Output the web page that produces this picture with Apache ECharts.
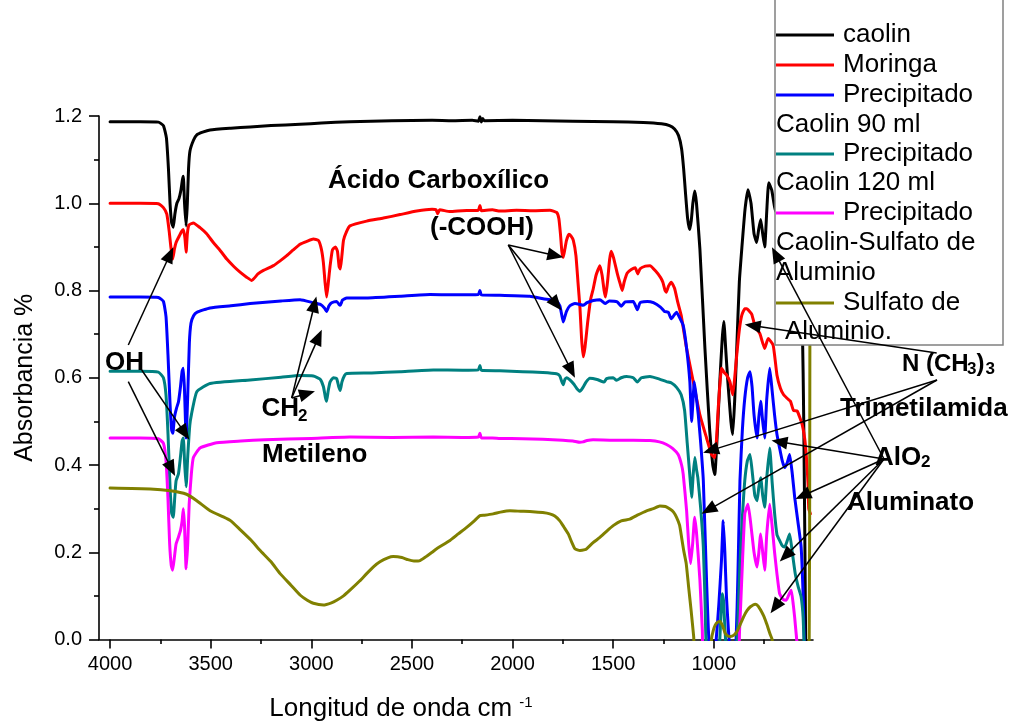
<!DOCTYPE html>
<html><head><meta charset="utf-8">
<script src="https://cdn.jsdelivr.net/npm/echarts@6/dist/echarts.min.js"></script>
<style>html,body{margin:0;padding:0;background:#fff}#c{width:1011px;height:727px}</style>
</head><body><div id="c"></div>
<script>
// ---------------- data (wavenumber cm-1, absorbance) ----------------
const caolin = [[4000,1.187],[3850,1.187],[3760,1.186],[3735,1.178],[3720,1.15],[3710,1.08],[3702,1.0],[3694,0.955],[3686,0.945],[3678,0.975],[3668,1.0],[3658,1.01],[3648,1.03],[3640,1.055],[3636,1.062],[3630,1.0],[3622,0.948],[3616,1.0],[3610,1.08],[3603,1.12],[3585,1.145],[3569,1.157],[3540,1.163],[3503,1.168],[3400,1.172],[3304,1.175],[3200,1.178],[3056,1.181],[2950,1.184],[2808,1.187],[2600,1.189],[2400,1.19],[2300,1.189],[2200,1.19],[2170,1.188],[2162,1.198],[2155,1.186],[2148,1.194],[2140,1.189],[2000,1.19],[1850,1.189],[1700,1.188],[1500,1.187],[1350,1.185],[1260,1.182],[1220,1.178],[1195,1.17],[1175,1.155],[1160,1.125],[1150,1.08],[1140,1.02],[1130,0.965],[1120,0.94],[1112,0.96],[1104,1.0],[1095,1.028],[1086,1.0],[1069,0.895],[1044,0.667],[1020,0.477],[1005,0.40],[995,0.378],[985,0.45],[970,0.592],[958,0.69],[950,0.729],[940,0.66],[930,0.59],[915,0.5],[906,0.47],[896,0.55],[886,0.667],[873,0.82],[861,0.895],[845,0.985],[830,1.031],[815,1.0],[800,0.93],[787,0.91],[777,0.94],[767,0.963],[757,0.93],[747,0.9],[737,0.98],[727,1.047],[712,1.03],[690,0.98],[640,1.0],[600,0.95],[575,0.85],[560,0.72],[553,0.5],[547,0.2],[542,-0.1]];
const moringa = [[4000,1.0],[3850,1.0],[3760,0.999],[3735,0.99],[3718,0.975],[3706,0.935],[3698,0.9],[3689,0.872],[3680,0.895],[3672,0.91],[3656,0.925],[3645,0.935],[3636,0.94],[3628,0.92],[3622,0.888],[3616,0.93],[3608,0.95],[3586,0.955],[3553,0.944],[3520,0.93],[3487,0.91],[3450,0.89],[3420,0.872],[3385,0.855],[3354,0.842],[3320,0.83],[3296,0.823],[3265,0.838],[3238,0.846],[3188,0.857],[3155,0.868],[3122,0.88],[3090,0.893],[3056,0.906],[3020,0.913],[2990,0.918],[2965,0.915],[2950,0.895],[2940,0.864],[2932,0.82],[2924,0.785],[2915,0.82],[2907,0.855],[2895,0.893],[2880,0.9],[2870,0.89],[2862,0.855],[2856,0.849],[2848,0.88],[2840,0.915],[2825,0.935],[2808,0.948],[2725,0.959],[2642,0.966],[2559,0.974],[2476,0.982],[2400,0.986],[2380,0.985],[2372,0.976],[2362,0.985],[2311,0.981],[2250,0.983],[2170,0.984],[2162,0.995],[2155,0.983],[2100,0.985],[2063,0.982],[1980,0.984],[1898,0.983],[1814,0.984],[1781,0.979],[1770,0.965],[1762,0.93],[1755,0.89],[1748,0.876],[1740,0.895],[1732,0.915],[1720,0.929],[1710,0.925],[1698,0.915],[1685,0.88],[1675,0.82],[1665,0.76],[1657,0.69],[1649,0.648],[1640,0.67],[1626,0.73],[1612,0.78],[1599,0.804],[1585,0.835],[1566,0.857],[1555,0.835],[1545,0.80],[1538,0.785],[1528,0.82],[1518,0.87],[1510,0.89],[1498,0.875],[1480,0.84],[1465,0.815],[1455,0.80],[1445,0.82],[1430,0.84],[1410,0.848],[1390,0.852],[1378,0.838],[1366,0.85],[1340,0.856],[1317,0.857],[1290,0.845],[1265,0.83],[1253,0.819],[1242,0.8],[1236,0.796],[1225,0.81],[1211,0.819],[1195,0.805],[1180,0.775],[1162,0.743],[1135,0.667],[1102,0.591],[1069,0.515],[1036,0.462],[1011,0.424],[995,0.417],[985,0.47],[978,0.53],[961,0.622],[948,0.612],[936,0.606],[920,0.591],[906,0.561],[896,0.6],[886,0.652],[873,0.71],[861,0.743],[846,0.758],[836,0.758],[822,0.752],[811,0.745],[796,0.72],[771,0.701],[747,0.667],[730,0.69],[705,0.675],[686,0.606],[669,0.576],[653,0.561],[636,0.553],[619,0.546],[604,0.525],[586,0.524],[561,0.493],[545,0.447],[532,0.36],[528,0.3],[520,0.288]];
const precip90 = [[4000,0.785],[3850,0.785],[3760,0.784],[3735,0.775],[3722,0.74],[3712,0.65],[3702,0.54],[3694,0.48],[3688,0.473],[3680,0.51],[3670,0.53],[3660,0.545],[3650,0.58],[3642,0.615],[3636,0.622],[3630,0.57],[3622,0.462],[3614,0.56],[3606,0.68],[3598,0.725],[3585,0.742],[3569,0.75],[3503,0.76],[3400,0.765],[3304,0.77],[3150,0.776],[3056,0.779],[2990,0.772],[2955,0.768],[2935,0.76],[2924,0.752],[2912,0.765],[2899,0.772],[2874,0.775],[2862,0.768],[2856,0.766],[2845,0.778],[2824,0.783],[2725,0.783],[2559,0.787],[2410,0.791],[2300,0.79],[2170,0.791],[2162,0.80],[2155,0.79],[2063,0.789],[1914,0.787],[1848,0.781],[1781,0.776],[1765,0.765],[1756,0.745],[1748,0.728],[1740,0.74],[1732,0.752],[1715,0.765],[1690,0.77],[1665,0.768],[1650,0.766],[1630,0.772],[1599,0.777],[1566,0.779],[1540,0.77],[1520,0.776],[1480,0.774],[1460,0.764],[1440,0.774],[1400,0.775],[1380,0.756],[1366,0.772],[1330,0.775],[1300,0.772],[1265,0.762],[1245,0.752],[1226,0.75],[1211,0.735],[1195,0.745],[1185,0.75],[1170,0.738],[1152,0.72],[1135,0.667],[1119,0.591],[1110,0.50],[1103,0.55],[1097,0.591],[1088,0.56],[1077,0.515],[1065,0.45],[1052,0.364],[1036,0.136],[1022,-0.02],[1000,-0.05],[988,0.0],[975,0.08],[962,0.18],[953,0.272],[945,0.2],[937,0.098],[927,0.02],[918,-0.03],[900,-0.05],[889,0.0],[880,0.15],[870,0.364],[858,0.48],[846,0.553],[832,0.6],[820,0.614],[810,0.58],[800,0.515],[785,0.462],[776,0.51],[767,0.546],[757,0.5],[747,0.462],[737,0.55],[722,0.622],[710,0.57],[698,0.515],[686,0.47],[673,0.439],[660,0.41],[648,0.394],[635,0.405],[623,0.424],[610,0.38],[598,0.326],[582,0.27],[566,0.212],[556,0.1],[548,-0.05]];
const precip120 = [[4000,0.615],[3850,0.615],[3760,0.613],[3735,0.60],[3722,0.56],[3712,0.47],[3702,0.35],[3694,0.29],[3686,0.28],[3678,0.33],[3672,0.364],[3660,0.38],[3650,0.42],[3642,0.455],[3636,0.462],[3629,0.40],[3622,0.35],[3614,0.42],[3604,0.49],[3596,0.515],[3569,0.568],[3503,0.587],[3304,0.595],[3150,0.601],[3056,0.605],[2990,0.604],[2957,0.597],[2940,0.58],[2930,0.555],[2924,0.546],[2916,0.57],[2907,0.59],[2891,0.6],[2874,0.598],[2864,0.58],[2856,0.571],[2848,0.59],[2835,0.605],[2824,0.61],[2700,0.611],[2559,0.614],[2394,0.618],[2250,0.617],[2170,0.618],[2162,0.628],[2155,0.617],[2063,0.616],[1950,0.614],[1850,0.612],[1781,0.609],[1765,0.604],[1756,0.592],[1748,0.584],[1740,0.596],[1730,0.6],[1715,0.595],[1695,0.585],[1680,0.575],[1665,0.569],[1650,0.578],[1635,0.59],[1616,0.599],[1580,0.596],[1545,0.59],[1533,0.598],[1500,0.6],[1483,0.594],[1460,0.6],[1433,0.603],[1400,0.6],[1380,0.59],[1360,0.6],[1317,0.603],[1270,0.597],[1235,0.591],[1210,0.588],[1185,0.578],[1162,0.561],[1145,0.525],[1132,0.45],[1118,0.37],[1110,0.326],[1102,0.38],[1094,0.417],[1086,0.39],[1079,0.37],[1065,0.3],[1052,0.212],[1043,0.08],[1036,-0.02],[1000,-0.05],[975,-0.03],[966,0.04],[958,0.105],[952,0.09],[945,0.03],[935,-0.03],[895,-0.05],[882,0.02],[870,0.174],[858,0.28],[846,0.364],[833,0.41],[820,0.424],[808,0.38],[796,0.33],[785,0.318],[776,0.35],[767,0.371],[757,0.33],[747,0.303],[737,0.37],[722,0.439],[710,0.36],[698,0.29],[686,0.24],[673,0.227],[660,0.215],[648,0.212],[636,0.225],[623,0.242],[610,0.2],[595,0.15],[580,0.12],[566,0.098],[556,0.05],[548,-0.05]];
const precipSulfato = [[4000,0.462],[3850,0.462],[3760,0.46],[3735,0.45],[3722,0.41],[3712,0.32],[3704,0.22],[3696,0.17],[3689,0.159],[3680,0.19],[3672,0.219],[3660,0.235],[3650,0.25],[3642,0.272],[3636,0.30],[3630,0.26],[3622,0.162],[3614,0.22],[3607,0.31],[3596,0.38],[3586,0.417],[3553,0.439],[3470,0.451],[3350,0.455],[3230,0.458],[3000,0.461],[2808,0.464],[2600,0.463],[2394,0.464],[2250,0.463],[2170,0.464],[2162,0.473],[2155,0.462],[2100,0.462],[2063,0.461],[1950,0.46],[1850,0.459],[1750,0.457],[1700,0.455],[1665,0.452],[1650,0.453],[1630,0.456],[1600,0.458],[1500,0.457],[1400,0.457],[1317,0.456],[1270,0.453],[1235,0.447],[1205,0.438],[1177,0.424],[1160,0.40],[1152,0.379],[1135,0.295],[1125,0.22],[1115,0.174],[1105,0.22],[1095,0.28],[1085,0.24],[1069,0.136],[1057,0.02],[1050,-0.05],[885,-0.05],[872,0.02],[860,0.15],[846,0.288],[830,0.31],[815,0.26],[800,0.2],[785,0.166],[776,0.2],[767,0.242],[757,0.2],[747,0.159],[737,0.24],[722,0.31],[710,0.26],[698,0.2],[686,0.15],[673,0.105],[656,0.092],[640,0.09],[625,0.105],[615,0.113],[605,0.08],[598,0.05],[588,0.0],[575,-0.05]];
const sulfato = [[4000,0.347],[3800,0.345],[3700,0.341],[3620,0.333],[3569,0.318],[3503,0.295],[3437,0.281],[3400,0.272],[3354,0.252],[3300,0.228],[3254,0.204],[3200,0.178],[3155,0.151],[3100,0.124],[3056,0.102],[3020,0.09],[2990,0.083],[2940,0.079],[2900,0.084],[2874,0.09],[2840,0.1],[2808,0.113],[2760,0.134],[2725,0.151],[2690,0.167],[2659,0.178],[2620,0.187],[2593,0.19],[2550,0.188],[2520,0.183],[2490,0.18],[2460,0.181],[2430,0.19],[2400,0.2],[2377,0.208],[2311,0.227],[2270,0.242],[2228,0.257],[2190,0.272],[2162,0.284],[2140,0.285],[2096,0.288],[2060,0.292],[2013,0.295],[1960,0.294],[1900,0.293],[1850,0.291],[1815,0.288],[1790,0.283],[1765,0.272],[1745,0.258],[1723,0.242],[1705,0.222],[1690,0.208],[1665,0.204],[1640,0.206],[1632,0.208],[1600,0.222],[1566,0.234],[1533,0.248],[1500,0.261],[1460,0.272],[1417,0.276],[1380,0.285],[1334,0.295],[1300,0.3],[1268,0.306],[1240,0.305],[1218,0.299],[1200,0.292],[1185,0.28],[1170,0.262],[1162,0.24],[1150,0.205],[1137,0.174],[1125,0.12],[1113,0.068],[1100,0.007],[1090,-0.05],[1020,-0.05],[1012,0.0],[1003,0.02],[993,0.033],[980,0.04],[968,0.041],[955,0.03],[943,0.014],[930,0.008],[918,0.007],[900,0.01],[885,0.018],[870,0.033],[852,0.052],[835,0.066],[818,0.075],[794,0.081],[780,0.077],[768,0.068],[750,0.052],[735,0.033],[720,0.012],[710,0.0],[700,-0.05],[540,-0.05],[526,0.0],[523,0.5],[520,1.6]];

const seriesNames = ['caolin','Moringa','Precipitado Caolin 90 ml','Precipitado Caolin 120 ml','Precipitado Caolin-Sulfato de Aluminio','Sulfato de Aluminio.'];
const seriesData = [caolin, moringa, precip90, precip120, precipSulfato, sulfato];
const xTickValues = [4000, 3500, 3000, 2500, 2000, 1500, 1000];
const xMinorTickValues = [3750, 3250, 2750, 2250, 1750, 1250, 750];
const yTickValues = [0, 0.2, 0.4, 0.6, 0.8, 1.0, 1.2];

// ---------------- style ----------------
const colors = ['#000000','#ff0000','#0000ff','#008080','#ff00ff','#808000'];
const FONT = '"Liberation Sans", Arial, Helvetica, sans-serif';
const X_MIN = 507, X_MAX = 4055;

const chart = echarts.init(document.getElementById('c'), null, {renderer:'canvas'});

const legendFirstLine = ['caolin','Moringa','Precipitado','Precipitado','Precipitado','Sulfato de'];
const legendRowY = [35, 65, 95, 154, 213, 303];

const option = {
  animation: false,
  backgroundColor: '#ffffff',
  textStyle: {fontFamily: FONT},
  grid: {left: 99, top: 116, width: 714, height: 527, containLabel: false},
  xAxis: [{
    type: 'value', inverse: true, min: X_MIN, max: X_MAX,
    name: 'Longitud de onda cm {s|-1}', nameLocation: 'middle', nameGap: 56,
    nameTextStyle: {fontFamily: FONT, fontSize: 26, color: '#000', padding: [0, 110, 0, 0],
      rich: {s: {fontFamily: FONT, fontSize: 15, color: '#000', verticalAlign: 'top', padding: [0,0,12,0]}}},
    axisLine: {show: true, onZero: false, lineStyle: {color: '#000', width: 1.6}},
    axisTick: {show: true, customValues: xTickValues, length: 9, lineStyle: {color: '#000', width: 1.6}},
    axisLabel: {customValues: xTickValues, fontFamily: FONT, fontSize: 20, color: '#000', margin: 15,
      formatter: v => String(Math.round(v))},
    splitLine: {show: false}
  }, {
    type: 'value', inverse: true, min: X_MIN, max: X_MAX, position: 'bottom',
    axisLine: {show: false},
    axisTick: {show: true, customValues: xMinorTickValues, length: 4.5, lineStyle: {color: '#000', width: 1.6}},
    axisLabel: {show: false},
    splitLine: {show: false}
  }],
  yAxis: {
    type: 'value', min: 0, max: 1.2, interval: 0.2,
    name: 'Absorbancia %', nameLocation: 'middle', nameGap: 61, nameRotate: 90,
    nameTextStyle: {fontFamily: FONT, fontSize: 25, color: '#000'},
    axisLine: {show: true, lineStyle: {color: '#000', width: 1.6}},
    axisTick: {show: true, length: 10, lineStyle: {color: '#000', width: 1.6}},
    minorTick: {show: true, splitNumber: 2, length: 5, lineStyle: {color: '#000', width: 1.6}},
    axisLabel: {fontFamily: FONT, fontSize: 20, color: '#000', margin: 17, formatter: v => v.toFixed(1)},
    splitLine: {show: false}
  },
  legend: seriesNames.map((n, i) => ({
    data: [n], left: 776, top: legendRowY[i] - 13, padding: 0, orient: 'vertical',
    icon: 'rect', itemWidth: 58, itemHeight: 3, selectedMode: false, z: 10,
    formatter: () => legendFirstLine[i],
    textStyle: {fontFamily: FONT, fontSize: 26, color: '#000', padding: [0, 0, 0, 4]}
  })),
  series: seriesNames.map((n, i) => ({
    name: n, type: 'line', data: seriesData[i], xAxisIndex: 0, yAxisIndex: 0,
    showSymbol: false, symbol: 'none', smooth: 0.15, clip: true,
    color: colors[i],
    lineStyle: {color: colors[i], width: 3, cap: 'round', join: 'round'},
    z: 2 + i * 0.01
  }))
};
chart.setOption(option);

// ---------------- annotations ----------------
// label positions (pixels, layout) ; arrow tips in data coordinates
const annotationTexts = [
  {t: 'Ácido Carboxílico', x: 328, y: 181, s: 26, b: true},
  {t: '(-COOH)', x: 430, y: 228, s: 26, b: true},
  {t: 'OH', x: 105, y: 363, s: 26, b: true},
  {t: 'CH', x: 261.5, y: 409, s: 26, b: true},
  {t: '2', x: 298, y: 416, s: 17, b: true},
  {t: 'Metileno', x: 262, y: 455, s: 26, b: true},
  {t: 'N (CH', x: 902, y: 364, s: 24, b: true},
  {t: '3', x: 967, y: 369, s: 17, b: true},
  {t: ')', x: 976.5, y: 364, s: 24, b: true},
  {t: '3', x: 985.5, y: 369, s: 17, b: true},
  {t: 'Trimetilamida', x: 840, y: 409, s: 26, b: true},
  {t: 'AlO', x: 875, y: 457.5, s: 26, b: true},
  {t: '2', x: 921, y: 462, s: 17, b: true},
  {t: 'Aluminato', x: 847, y: 502.5, s: 26, b: true}
];
const legendExtraTexts = [
  {t: 'Caolin 90 ml', x: 776, y: 125},
  {t: 'Caolin 120 ml', x: 776, y: 183},
  {t: 'Caolin-Sulfato de', x: 776, y: 243},
  {t: 'Aluminio', x: 776, y: 273},
  {t: 'Aluminio.', x: 785, y: 332}
];
const arrowGroups = [
  {from: [128.3, 345], tips: [[3686, 0.899]]},
  {from: [141.7, 370], tips: [[3606, 0.458]]},
  {from: [128.3, 381.7], tips: [[3677, 0.375]]},
  {from: [291.7, 398], tips: [[2975, 0.786], [2948, 0.710], [2982, 0.569]]},
  {from: [508.3, 245], tips: [[1748, 0.876], [1756, 0.754], [1690, 0.600]]},
  {from: [936.7, 353], tips: [[846, 0.722]]},
  {from: [937, 380], tips: [[1053, 0.428], [1061, 0.288]]},
  {from: [884, 459], tips: [[711, 0.899], [713, 0.456], [594, 0.322], [672, 0.179], [718, 0.060]]}
];

const els = [];
els.push({type: 'rect', z: 5, shape: {x: 775, y: -5, width: 228, height: 350},
  style: {fill: '#ffffff', stroke: '#808080', lineWidth: 1.5}});
legendExtraTexts.forEach(o => els.push({type: 'text', z: 11, x: o.x, y: o.y,
  style: {text: o.t, fontFamily: FONT, fontSize: 26, fill: '#000', align: 'left', verticalAlign: 'middle'}}));
annotationTexts.forEach(o => els.push({type: 'text', z: 12, x: o.x, y: o.y,
  style: {text: o.t, fontFamily: FONT, fontSize: o.s, fontWeight: o.b ? 'bold' : 'normal', fill: '#000', align: 'left', verticalAlign: 'middle'}}));
arrowGroups.forEach(g => {
  g.tips.forEach(tp => {
    const p = chart.convertToPixel({xAxisIndex: 0, yAxisIndex: 0}, tp);
    const x1 = g.from[0], y1 = g.from[1], x2 = p[0], y2 = p[1];
    const dx = x2 - x1, dy = y2 - y1, L = Math.hypot(dx, dy), ux = dx / L, uy = dy / L;
    const hl = 16, hw = 6.5;
    const bx = x2 - ux * hl, by = y2 - uy * hl;
    els.push({type: 'line', z: 20, shape: {x1: x1, y1: y1, x2: bx + ux * 2, y2: by + uy * 2},
      style: {stroke: '#000', lineWidth: 1.5}});
    els.push({type: 'polygon', z: 20, shape: {points: [[x2, y2], [bx - uy * hw, by + ux * hw], [bx + uy * hw, by - ux * hw]]},
      style: {fill: '#000'}});
  });
});
chart.setOption({graphic: {elements: els}});
</script>
</body></html>
